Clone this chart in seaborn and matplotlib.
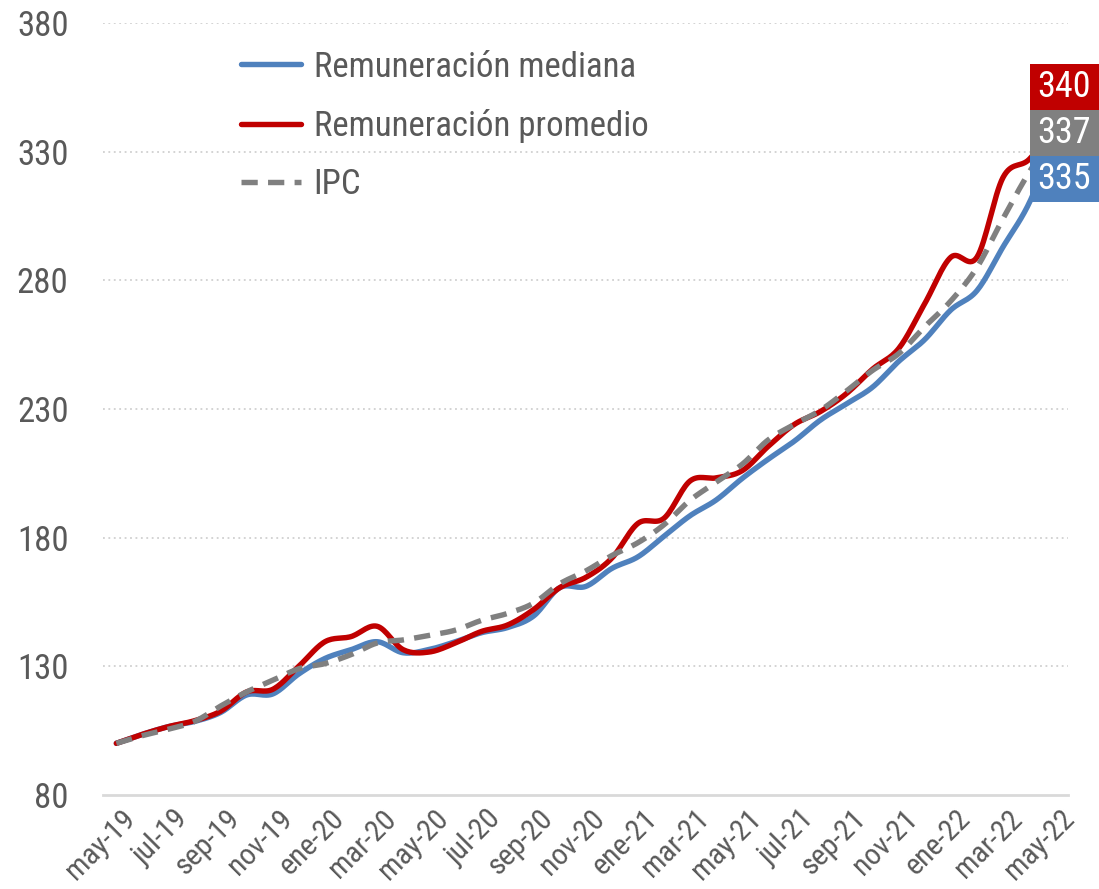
import numpy as np
import pandas as pd
import seaborn as sns
import matplotlib.pyplot as plt
import matplotlib.transforms as mtrans
from matplotlib.patches import Rectangle
from matplotlib import font_manager

# meses may-19 .. may-22
meses = ['may-19', 'jun-19', 'jul-19', 'ago-19', 'sep-19', 'oct-19', 'nov-19', 'dic-19',
         'ene-20', 'feb-20', 'mar-20', 'abr-20', 'may-20', 'jun-20', 'jul-20', 'ago-20',
         'sep-20', 'oct-20', 'nov-20', 'dic-20', 'ene-21', 'feb-21', 'mar-21', 'abr-21',
         'may-21', 'jun-21', 'jul-21', 'ago-21', 'sep-21', 'oct-21', 'nov-21', 'dic-21',
         'ene-22', 'feb-22', 'mar-22', 'abr-22', 'may-22']

mediana = [100, 103.5, 106.5, 108.5, 112, 118.8, 119.2, 127, 133, 136.4, 139.5, 135.2,
           136.5, 139.5, 143, 145, 149.5, 160.5, 161, 168, 172.5, 180.5, 188.5, 194.6,
           203, 210.5, 217.5, 225.7, 232, 238.5, 248.5, 257, 268.5, 276, 293, 310, 335]
promedio = [100, 103.5, 106.5, 108.8, 112.5, 120, 121, 130, 139.5, 141.5, 145.5, 136.4,
            135.5, 139, 143.5, 146, 152, 160.5, 164.5, 172, 185.5, 187.5, 202, 203.2,
            206, 215.5, 224, 229, 236, 245.5, 253.5, 271, 289, 289, 320, 327, 340]
ipc = [100, 103, 105.5, 108.5, 114.5, 120, 124.5, 129, 131, 134.5, 139, 140.2,
       142, 144, 147.8, 150.5, 154.5, 162, 167, 173, 178, 185, 194.5, 201.5,
       208.5, 218, 224, 229.5, 237, 245, 251.5, 262, 272, 285, 304, 322, 337]

series = ['Remuneración mediana', 'Remuneración promedio', 'IPC']
colores = ['#4F81BD', '#C00000', '#808080']
etiquetas_fin = ['340', '337', '335']   # cajas de la derecha (rojo, gris, azul)
colores_fin = ['#C00000', '#808080', '#4F81BD']


def suavizar(x, y, n=16):
    # curva suavizada tipo Excel (bezier catmull-rom)
    pts = np.column_stack([x, y]).astype(float)
    P = np.vstack([pts[0], pts, pts[-1]])
    t = np.linspace(0, 1, n, endpoint=False)[:, None]
    out = []
    for i in range(1, len(P) - 2):
        p0, p1, p2, p3 = P[i - 1], P[i], P[i + 1], P[i + 2]
        c1 = p1 + (p2 - p0) / 6
        c2 = p2 - (p3 - p1) / 6
        out.append((1 - t) ** 3 * p1 + 3 * (1 - t) ** 2 * t * c1 + 3 * (1 - t) * t ** 2 * c2 + t ** 3 * p2)
    out.append(pts[-1:])
    return np.vstack(out)


x = np.arange(len(meses))
frames = []
for nombre, vals in zip(series, [mediana, promedio, ipc]):
    s = suavizar(x, vals)
    frames.append(pd.DataFrame({'x': s[:, 0], 'y': s[:, 1], 'serie': nombre}))
df = pd.concat(frames, ignore_index=True)

sns.set_theme(style='white')

# fuente angosta tipo Arial Narrow si hay alguna
fuentes = font_manager.fontManager.ttflist
nombres = {f.name for f in fuentes}
estirar = 'normal'
familia = 'Liberation Sans'
escala = 0.92
for cand in ['Liberation Sans Narrow', 'Arial Narrow', 'Roboto Condensed', 'Open Sans Condensed']:
    if cand in nombres:
        familia, escala = cand, 1.0
        break
else:
    if any(f.name == 'DejaVu Sans' and f.stretch == 'condensed' and f.weight in (400, 'normal')
           and f.style == 'normal' for f in fuentes):
        familia, estirar, escala = 'DejaVu Sans', 'condensed', 0.9
plt.rcParams['font.family'] = [familia, 'DejaVu Sans']
plt.rcParams['font.stretch'] = estirar

fs = 25 * escala
fs_x = 21.5 * escala
lw = 3.9

fig = plt.figure(figsize=(10.99, 8.89), dpi=100)
ax = fig.add_axes([0.094, 0.106, 0.878, 0.868])

sns.lineplot(data=df, x='x', y='y', hue='serie', style='serie', hue_order=series,
             style_order=series, palette=colores,
             dashes={series[0]: '', series[1]: '', series[2]: (3.0, 1.9)},
             sort=False, estimator=None, linewidth=lw, ax=ax)

ax.set_xlim(-0.5, len(meses) - 0.5)
ax.set_ylim(80, 380)
ax.set_yticks(np.arange(80, 381, 50))
ax.set_xticks(x[::2])
ax.set_xticklabels(meses[::2], rotation=45, ha='right', va='top', rotation_mode='anchor')
ax.set_xlabel('')
ax.set_ylabel('')
ax.tick_params(axis='y', labelsize=fs, labelcolor='#595959', length=0, pad=25)
ax.tick_params(axis='x', labelsize=fs_x, labelcolor='#595959', length=0, pad=7)
desplaza = mtrans.ScaledTranslation(5 / 100, 0, fig.dpi_scale_trans)
for lab in ax.get_xticklabels():
    lab.set_transform(lab.get_transform() + desplaza)

for yv in np.arange(130, 381, 50):
    ax.axhline(yv, color='#D0D0D0', linestyle=(0, (1, 2)), linewidth=1.3, zorder=0)
for s in ['top', 'right', 'left']:
    ax.spines[s].set_visible(False)
ax.spines['bottom'].set_color('#D9D9D9')
ax.spines['bottom'].set_linewidth(2)

leg = ax.legend(frameon=False, loc='upper left', bbox_to_anchor=(0.11, 1.005),
                fontsize=fs, handlelength=1.75, handletextpad=0.35, labelspacing=0.73)
for t in leg.get_texts():
    t.set_color('#595959')
for h in leg.get_lines():
    h.set_linewidth(lw)

# cajas con los valores finales
y_top = 1 - 64 / 889
alto = 46 / 889
for i, (txt, c) in enumerate(zip(etiquetas_fin, colores_fin)):
    y0 = y_top - (i + 1) * alto
    fig.patches.append(Rectangle((0.937, y0), 0.063, alto, transform=fig.transFigure,
                                 facecolor=c, edgecolor='none', zorder=5))
    fig.text(0.9685, y0 + alto / 2, txt, color='white', fontsize=fs + 1,
             ha='center', va='center', zorder=6)

fig.savefig('out.png', dpi=100)
